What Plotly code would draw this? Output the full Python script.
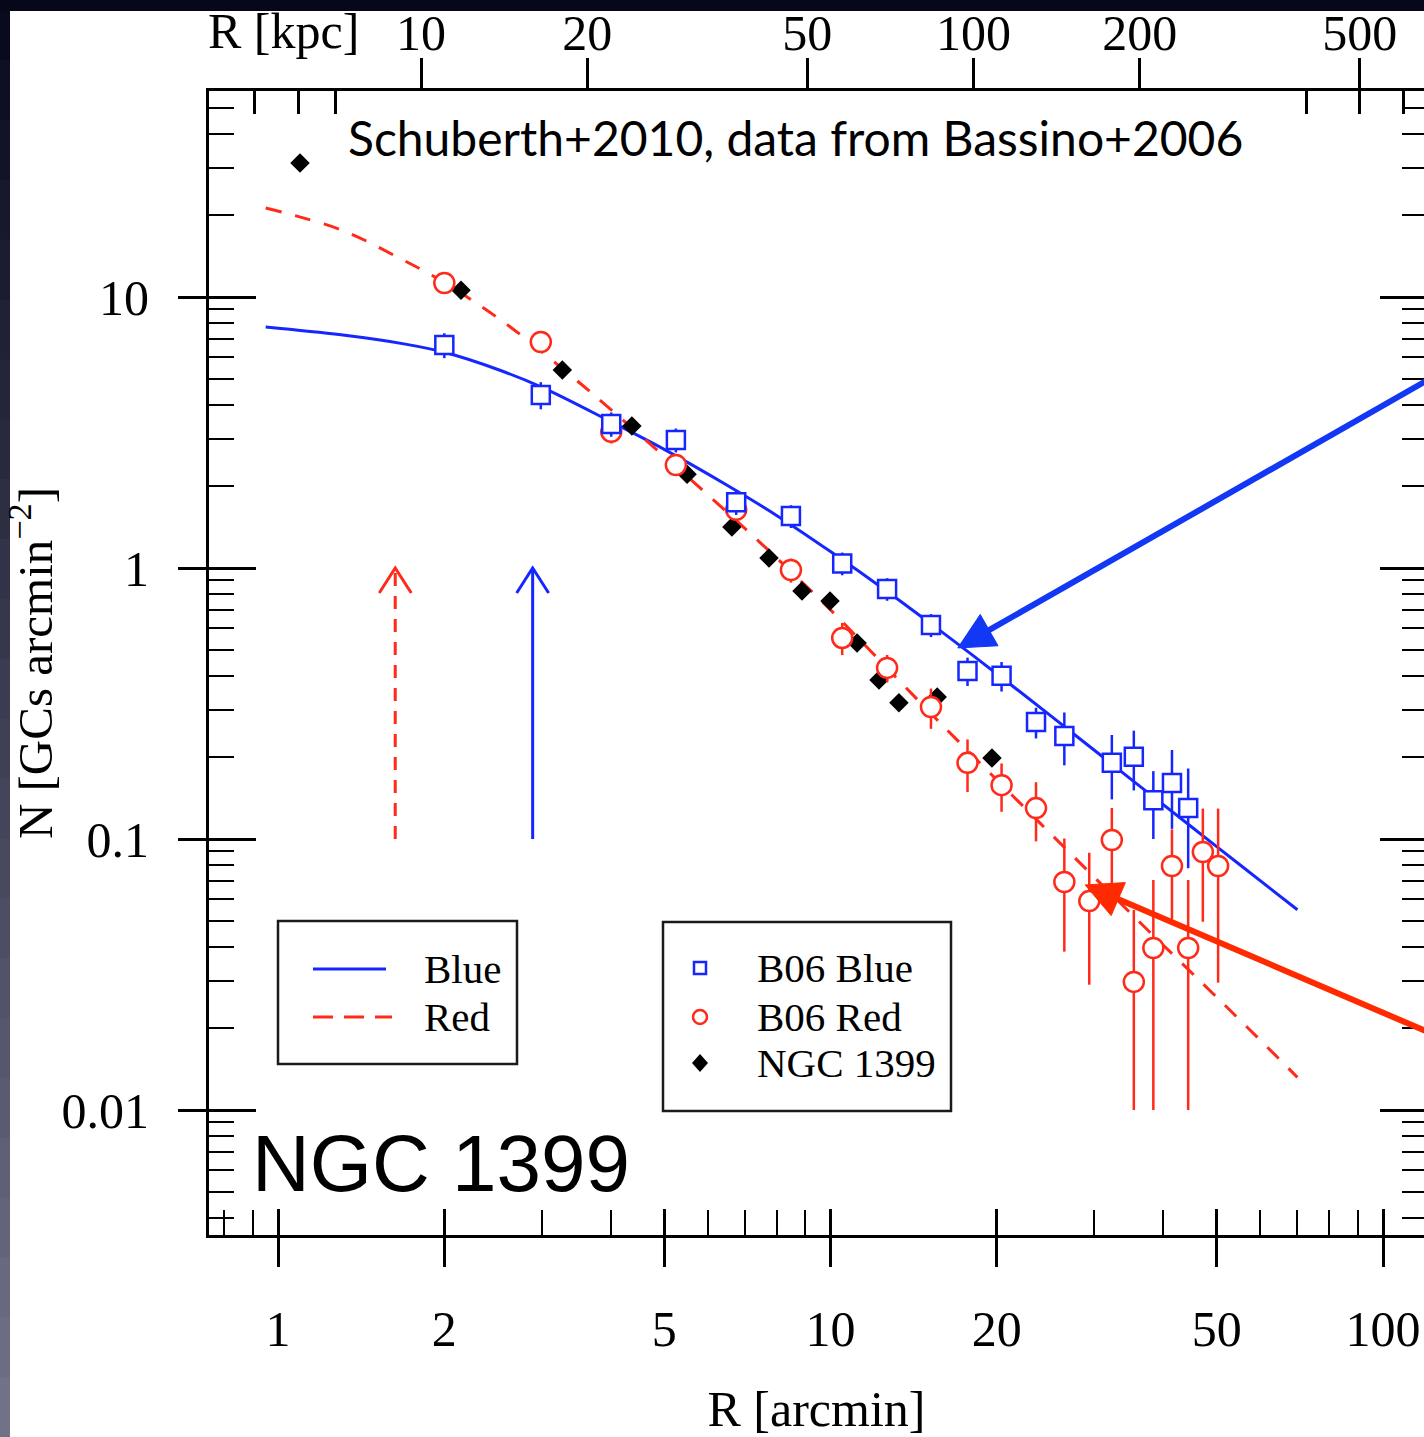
import math
import plotly.graph_objects as go

# ---------------- data ----------------
# B06 Blue (open squares)
b06_blue_r = [2.0, 2.99, 4.01, 5.25, 6.75, 8.48, 10.5, 12.66, 15.2, 17.7, 20.4,
              23.55, 26.5, 32.3, 35.4, 38.4, 41.5, 44.4]
b06_blue_n = [6.65, 4.35, 3.40, 2.97, 1.75, 1.555, 1.04, 0.837, 0.616, 0.417, 0.40,
              0.270, 0.240, 0.191, 0.201, 0.139, 0.161, 0.130]
b06_blue_err = [0.7, 0.5, 0.35, 0.3, 0.18, 0.15, 0.1, 0.08, 0.06, 0.05, 0.05,
                0.035, 0.053, 0.051, 0.05, 0.039, 0.052, 0.052]

# B06 Red (open circles)
b06_red_r = [2.0, 2.99, 4.01, 5.25, 6.75, 8.48, 10.5, 12.66, 15.2, 17.7, 20.4,
             23.55, 26.5, 29.4, 32.3, 35.4, 38.4, 41.5, 44.4, 47.2, 50.3]
b06_red_n = [11.26, 6.82, 3.18, 2.40, 1.64, 0.983, 0.552, 0.428, 0.307, 0.191, 0.158,
             0.130, 0.0694, 0.059, 0.0992, 0.0297, 0.0396, 0.0795, 0.0396, 0.0895, 0.0795]
b06_red_err_plus = [0.8, 0.5, 0.3, 0.2, 0.15, 0.1, 0.075, 0.05, 0.052, 0.042, 0.032,
                    0.032, 0.031, 0.030, 0.031, 0.025, 0.031, 0.029, 0.031, 0.040, 0.050]
b06_red_err_minus = [0.8, 0.5, 0.3, 0.2, 0.15, 0.1, 0.075, 0.05, 0.052, 0.042, 0.032,
                     0.032, 0.031, 0.030, 0.031, 0.0197, 0.0296, 0.029, 0.0296, 0.040, 0.050]

# NGC 1399 (filled diamonds)
ngc_r = [1.096, 2.144, 3.27, 4.37, 5.50, 6.63, 7.74, 8.88, 9.98, 11.17, 12.24, 13.3, 15.6, 19.6]
ngc_n = [31.2, 10.6, 5.38, 3.34, 2.22, 1.417, 1.089, 0.822, 0.756, 0.529, 0.386, 0.318, 0.334, 0.199]

# fitted profiles
blue_fit_r = [0.95, 1.3, 1.7, 2.0, 2.5, 3.0, 4.0, 5.0, 6.5, 8.0, 10.0, 12.5, 15.0,
              18.0, 22.0, 28.0, 35.0, 45.0, 55.0, 70.0]
blue_fit_n = [7.75, 7.25, 6.7, 6.25, 5.4, 4.65, 3.47, 2.74, 2.02, 1.56, 1.15, 0.835, 0.635,
              0.48, 0.35, 0.238, 0.166, 0.111, 0.0805, 0.0548]
red_fit_r = [0.95, 1.3, 1.65, 2.0, 2.6, 3.4, 4.0, 4.85, 6.0, 7.4, 9.9, 12.1, 15.8,
             24.0, 35.5, 47.0, 57.5, 70.0]
red_fit_n = [21.3, 17.7, 14.0, 11.3, 7.9, 5.1, 3.85, 2.73, 1.86, 1.26, 0.715, 0.47, 0.268,
             0.114, 0.0515, 0.0295, 0.0197, 0.0132]

# vertical marker arrows (radius in arcmin, from N=0.1 up to N=1)
red_arrow_r = 1.63
blue_arrow_r = 2.89
arrow_n = [0.1, 1.0]

# pointer arrows: tip (R, N)
blue_pointer = (17.0, 0.507)
red_pointer = (28.9, 0.0677)

# axes ticks
x_major = [1, 2, 5, 10, 20, 50, 100]
x_major_text = ["1", "2", "5", "10", "20", "50", "100"]
x_minor = [0.8, 0.9, 3, 4, 6, 7, 8, 9, 30, 40, 60, 70, 80, 90]
kpc_major = [10, 20, 50, 100, 200, 500]
kpc_major_text = ["10", "20", "50", "100", "200", "500"]
kpc_inner = [5, 6, 7, 400, 500, 600]
kpc_per_arcmin = 5.51
y_major = [0.01, 0.1, 1, 10]
y_major_text = ["0.01", "0.1", "1", "10"]
y_minor = [m * 10.0 ** e for e in (-3, -2, -1, 0, 1) for m in range(2, 10)]

# ---------------- layout geometry / styling ----------------
W, H = 1424, 1437
PL, PR, PT, PB = 209, 1424, 91, 1235
X1PX, XDEC = 278.0, 552.5     # pixel of R=1 arcmin, pixels per decade
Y1PX, YDEC = 568.0, 271.0     # pixel of N=1, pixels per decade
xr = [(PL - X1PX) / XDEC, (PR - X1PX) / XDEC]
yr = [(Y1PX - PB) / YDEC, (Y1PX - PT) / YDEC]
kr = [v + math.log10(kpc_per_arcmin) for v in xr]

SERIF = "Liberation Serif"
BLUE = "#1626ff"
RED = "#ff2a1a"


def px_x(px):
    return (px - PL) / (PR - PL)


def px_y(py):
    return (PB - py) / (PB - PT)


def to_kpc(rs):
    return [r * kpc_per_arcmin for r in rs]


fig = go.Figure()

# subplot xy: model curves
fig.add_trace(go.Scatter(x=blue_fit_r, y=blue_fit_n, mode="lines", name="Blue",
                         line=dict(color=BLUE, width=3, shape="spline"), xaxis="x", yaxis="y"))
fig.add_trace(go.Scatter(x=red_fit_r, y=red_fit_n, mode="lines", name="Red",
                         line=dict(color=RED, width=3, dash="16px,14px", shape="spline"),
                         xaxis="x", yaxis="y"))
# arrow shafts (the inner-tick left axis and the right axis share the N scale)
fig.add_trace(go.Scatter(x=[red_arrow_r, red_arrow_r], y=arrow_n, mode="lines",
                         line=dict(color=RED, width=3, dash="13px,10px"), hoverinfo="skip",
                         xaxis="x", yaxis="y2"))
fig.add_trace(go.Scatter(x=[blue_arrow_r, blue_arrow_r], y=arrow_n, mode="lines",
                         line=dict(color=BLUE, width=3), hoverinfo="skip",
                         xaxis="x", yaxis="y3"))
# NGC 1399 points, placed on the kpc (top) axis
fig.add_trace(go.Scatter(x=to_kpc(ngc_r), y=ngc_n, mode="markers", name="NGC 1399",
                         marker=dict(symbol="diamond", size=15, color="black"),
                         xaxis="x2", yaxis="y"))
fig.add_trace(go.Scatter(x=b06_red_r, y=b06_red_n, mode="markers", name="B06 Red",
                         marker=dict(symbol="circle", size=20, color="white",
                                     line=dict(color=RED, width=2.5)),
                         error_y=dict(type="data", symmetric=False, array=b06_red_err_plus,
                                      arrayminus=b06_red_err_minus, color=RED,
                                      thickness=2.5, width=0),
                         xaxis="x3", yaxis="y"))
fig.add_trace(go.Scatter(x=to_kpc(b06_blue_r), y=b06_blue_n, mode="markers", name="B06 Blue",
                         marker=dict(symbol="square", size=18, color="white",
                                     line=dict(color=BLUE, width=2.5)),
                         error_y=dict(type="data", array=b06_blue_err, color=BLUE,
                                      thickness=2.5, width=0),
                         xaxis="x4", yaxis="y"))

tickfont = dict(family=SERIF, size=50, color="black")
common = dict(showgrid=False, zeroline=False, tickcolor="black", automargin=False)

fig.update_layout(
    template="none",
    width=W, height=H, showlegend=False,
    margin=dict(l=PL, r=W - PR, t=PT, b=H - PB, pad=0, autoexpand=False),
    paper_bgcolor="white", plot_bgcolor="white",
    xaxis=dict(type="log", range=xr, showline=True, linecolor="black", linewidth=3,
               ticks="outside", ticklen=29, tickwidth=2.5,
               tickvals=x_major, ticktext=x_major_text, tickfont=tickfont,
               ticklabelstandoff=19,
               minor=dict(ticks="inside", ticklen=25, tickwidth=2, tickcolor="black",
                          tickvals=x_minor, showgrid=False),
               title=dict(text="R [arcmin]", font=tickfont, standoff=57), **common),
    xaxis3=dict(type="log", range=xr, overlaying="x", side="bottom", anchor="y",
                ticks="inside", ticklen=26, tickwidth=2.5, tickvals=x_major,
                showticklabels=False, showline=False, **common),
    xaxis2=dict(type="log", range=kr, overlaying="x", side="top", anchor="y",
                showline=True, linecolor="black", linewidth=3,
                ticks="outside", ticklen=30, tickwidth=2.5,
                tickvals=kpc_major, ticktext=kpc_major_text, tickfont=tickfont,
                ticklabelstandoff=-12, **common),
    xaxis4=dict(type="log", range=kr, overlaying="x", side="top", anchor="y",
                ticks="inside", ticklen=23, tickwidth=2.5, tickvals=kpc_inner,
                showticklabels=False, showline=False, **common),
    yaxis=dict(type="log", range=yr, showline=True, linecolor="black", linewidth=3,
               ticks="outside", ticklen=28, tickwidth=2.5,
               tickvals=y_major, ticktext=y_major_text, tickfont=tickfont,
               ticklabelstandoff=19,
               minor=dict(ticks="inside", ticklen=25, tickwidth=2, tickcolor="black",
                          tickvals=y_minor, showgrid=False),
               title=dict(text="N [GCs arcmin<sup>\u22122</sup>]",
                          font=dict(family=SERIF, size=49, color="black"), standoff=5),
               **common),
    yaxis2=dict(type="log", range=yr, overlaying="y", side="left", anchor="x",
                ticks="inside", ticklen=47, tickwidth=2.5, tickvals=y_major,
                showticklabels=False, showline=False, **common),
    yaxis3=dict(type="log", range=yr, overlaying="y", side="right", anchor="x",
                ticks="inside", ticklen=44, tickwidth=2.5, tickvals=y_major,
                showticklabels=False, showline=False,
                minor=dict(ticks="inside", ticklen=22, tickwidth=2, tickcolor="black",
                           tickvals=y_minor, showgrid=False),
                **common),
)

shapes = []
# dark slide background strips (gradient on the left)
n_seg = 24
c0, c1 = (8, 8, 28), (115, 115, 138)
for i in range(n_seg):
    t = (i + 0.5) / n_seg
    col = "rgb(%d,%d,%d)" % tuple(round(a + (b - a) * t) for a, b in zip(c0, c1))
    shapes.append(dict(type="rect", xref="paper", yref="paper", layer="above",
                       x0=px_x(0), x1=px_x(10), y0=px_y(H * i / n_seg),
                       y1=px_y(H * (i + 1) / n_seg + 1),
                       line=dict(width=0), fillcolor=col))
shapes.append(dict(type="rect", xref="paper", yref="paper", layer="above",
                   x0=px_x(0), x1=px_x(W), y0=px_y(0), y1=px_y(11),
                   line=dict(width=0), fillcolor="rgb(7,7,26)"))

# open chevron heads of the vertical arrows, anchored at their tips
for r, col in ((red_arrow_r, RED), (blue_arrow_r, BLUE)):
    shapes.append(dict(type="path", xref="x", yref="y", xsizemode="pixel", ysizemode="pixel",
                       xanchor=r, yanchor=arrow_n[1],
                       path="M-16,-25 L0,0 L16,-25", line=dict(color=col, width=3)))


def pointer(tip, dx, dy, color, width=6, head_len=36, head_half=18):
    """Arrow whose tip sits at a data point; tail offset (dx, dy) in pixels, y up."""
    L = math.hypot(dx, dy)
    ux, uy = -dx / L, -dy / L
    bx, by = -ux * head_len, -uy * head_len
    pxv, pyv = -uy, ux
    c1x, c1y = bx + pxv * head_half, by + pyv * head_half
    c2x, c2y = bx - pxv * head_half, by - pyv * head_half
    base = dict(type="path", xref="x", yref="y", xsizemode="pixel", ysizemode="pixel",
                xanchor=tip[0], yanchor=tip[1])
    return [
        dict(path="M%.1f,%.1f L%.1f,%.1f" % (bx * 0.9, by * 0.9, dx, dy),
             line=dict(color=color, width=width), **base),
        dict(path="M0,0 L%.1f,%.1f L%.1f,%.1f Z" % (c1x, c1y, c2x, c2y),
             line=dict(color=color, width=1), fillcolor=color, **base),
    ]


shapes += pointer(blue_pointer, 470, 268, "#1238f5")
shapes += pointer(red_pointer, 345, -148, "#ff2a00")

# legend boxes and symbols
for x0, y0, x1, y1 in ((278, 921, 517, 1064), (663, 922, 951, 1111)):
    shapes.append(dict(type="rect", xref="paper", yref="paper",
                       x0=px_x(x0), x1=px_x(x1), y0=px_y(y0), y1=px_y(y1),
                       line=dict(color="#1a1a1a", width=2.5), fillcolor="white"))
shapes.append(dict(type="line", xref="paper", yref="paper", x0=px_x(313), x1=px_x(386),
                   y0=px_y(969), y1=px_y(969), line=dict(color=BLUE, width=3)))
shapes.append(dict(type="line", xref="paper", yref="paper", x0=px_x(313), x1=px_x(392),
                   y0=px_y(1017), y1=px_y(1017), line=dict(color=RED, width=3, dash="20px,11px")))
shapes.append(dict(type="rect", xref="paper", yref="paper", xsizemode="pixel", ysizemode="pixel",
                   xanchor=px_x(700), yanchor=px_y(968), x0=-6, x1=6, y0=-6, y1=6,
                   line=dict(color=BLUE, width=2.5), fillcolor="white"))
shapes.append(dict(type="circle", xref="paper", yref="paper", xsizemode="pixel", ysizemode="pixel",
                   xanchor=px_x(700), yanchor=px_y(1017), x0=-7, x1=7, y0=-7, y1=7,
                   line=dict(color=RED, width=2.5), fillcolor="white"))
shapes.append(dict(type="path", xref="paper", yref="paper", xsizemode="pixel", ysizemode="pixel",
                   xanchor=px_x(700), yanchor=px_y(1063), path="M0,9 L8,0 L0,-9 L-8,0 Z",
                   line=dict(color="black", width=0), fillcolor="black"))
fig.update_layout(shapes=shapes)

legfont = dict(family=SERIF, size=41, color="black")
ann = []
for txt, xx, yy in (("Blue", 422, 969), ("Red", 422, 1017), ("B06 Blue", 755, 968),
                    ("B06 Red", 755, 1017), ("NGC 1399", 755, 1063)):
    ann.append(dict(text=txt, xref="paper", yref="paper", x=px_x(xx), y=px_y(yy),
                    xanchor="left", yanchor="middle", showarrow=False, font=legfont))
ann.append(dict(text="R [kpc]", xref="paper", yref="paper", x=px_x(206), y=px_y(31),
                xanchor="left", yanchor="middle", showarrow=False, font=tickfont))
ann.append(dict(text="Schuberth+2010, data from Bassino+2006", xref="paper", yref="paper",
                x=px_x(346), y=px_y(138), xanchor="left", yanchor="middle", showarrow=False,
                font=dict(family="Lato", size=48, color="black")))
ann.append(dict(text="NGC 1399", xref="paper", yref="paper", x=px_x(250), y=px_y(1163),
                xanchor="left", yanchor="middle", showarrow=False,
                font=dict(family="Liberation Sans", size=80, color="black")))
fig.update_layout(annotations=ann)

fig.write_html("out.html")
